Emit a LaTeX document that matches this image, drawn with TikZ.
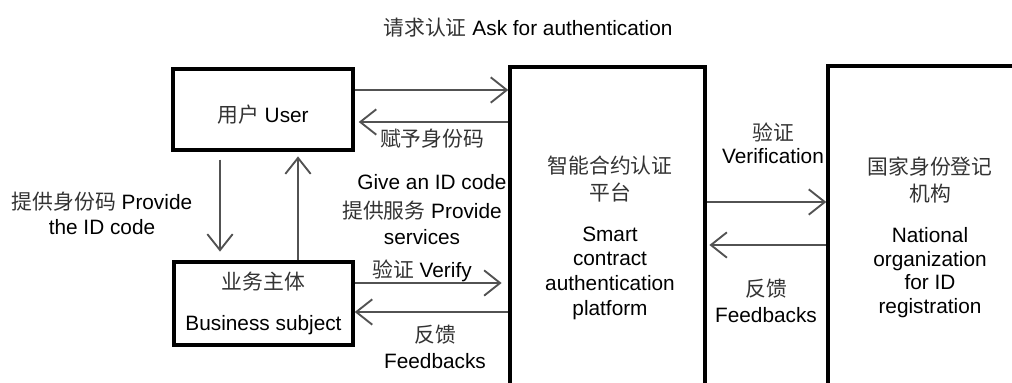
\documentclass[tikz,border=0pt]{standalone}
\usepackage{fontspec}
\setmainfont{Liberation Sans}
\newfontfamily\cjk{Noto Sans CJK SC}
\usetikzlibrary{arrows.meta}
\newcommand{\zh}[1]{{\cjk\color{black!80}#1}}
\tikzset{
  txt/.style={font=\fontsize{15.6}{19}\selectfont, align=center, inner sep=0pt},
  boxstyle/.style={draw=black, line width=2.6pt, fill=white, inner sep=0pt},
  arr/.style={draw=black!68, line width=1.7pt,
    -{Straight Barb[length=12pt, width=19pt, line width=1.4pt]}},
}
\begin{document}
\begin{tikzpicture}[x=0.75pt, y=-0.75pt]
\clip (0,0) rectangle (1012,382);
\fill[white] (0,0) rectangle (1012,382);

% boxes
\node[boxstyle, txt, minimum width=135pt, minimum height=60.75pt] (user) at (263,109.5)
  {\raisebox{-4pt}[\height][\depth]{\zh{用户} User}};
\node[boxstyle, txt, minimum width=134.25pt, minimum height=62.25pt,
  font=\fontsize{15.6}{30.75}\selectfont] (biz) at (263.5,303.5)
  {\zh{业务主体}\\Business subject};
\node[boxstyle, minimum width=146.25pt, minimum height=264.75pt] (plat) at (607.5,243.5) {};
\node[boxstyle, minimum width=159pt, minimum height=265.5pt] (nat) at (934,243) {};

% texts inside the tall boxes
\node[txt, font=\fontsize{15.6}{20.2}\selectfont] (platcn) at (610,179.5) {\zh{智能合约认证}\\\zh{平台}};
\node[txt, font=\fontsize{15.6}{18.5}\selectfont] (platen) at (610,273) {Smart\\contract\\authentication\\platform};
\node[txt, font=\fontsize{15.6}{20.2}\selectfont] (natcn) at (930,180) {\zh{国家身份登记}\\\zh{机构}};
\node[txt, font=\fontsize{15.6}{17.8}\selectfont] (naten) at (930,272.5) {National\\organization\\for ID\\registration};

% labels
\node[txt] (title) at (528,28) {\zh{请求认证} Ask for authentication};
\node[txt] (provid) at (102,213) {\zh{提供身份码} Provide\\the ID code};
\node[txt] (assign) at (432,139) {\zh{赋予身份码}};
\node[txt] (giveid) at (432,182) {Give an ID code};
\node[txt] (provsv) at (422,223) {\zh{提供服务} Provide\\services};
\node[txt] (verify) at (422,271) {\zh{验证} Verify};
\node[txt] (fbleft) at (435,347) {\zh{反馈}\\Feedbacks};
\node[txt, font=\fontsize{15.6}{17.5}\selectfont] (verif) at (773,143) {\zh{验证}\\Verification};
\node[txt, font=\fontsize{15.6}{20}\selectfont] (fbright) at (766,301) {\zh{反馈}\\Feedbacks};

% connectors
\draw[arr] (user.east |- 0,90) -- (plat.west |- 0,90);
\draw[arr, shorten >=3pt] (plat.west |- 0,122) -- (user.east |- 0,122);
\draw[arr, shorten <=6pt, shorten >=6.5pt] (user.south -| 220,0) -- (biz.north -| 220,0);
\draw[arr, shorten >=3.5pt] (biz.north -| 298,0) -- (user.south -| 298,0);
\draw[arr, shorten >=5pt] (biz.east |- 0,283) -- (plat.west |- 0,283);
\draw[arr] (plat.west |- 0,312) -- (biz.east |- 0,312);
\draw[arr] (plat.east |- 0,202) -- (nat.west |- 0,202);
\draw[arr, shorten >=2pt] (nat.west |- 0,245) -- (plat.east |- 0,245);
\end{tikzpicture}
\end{document}
